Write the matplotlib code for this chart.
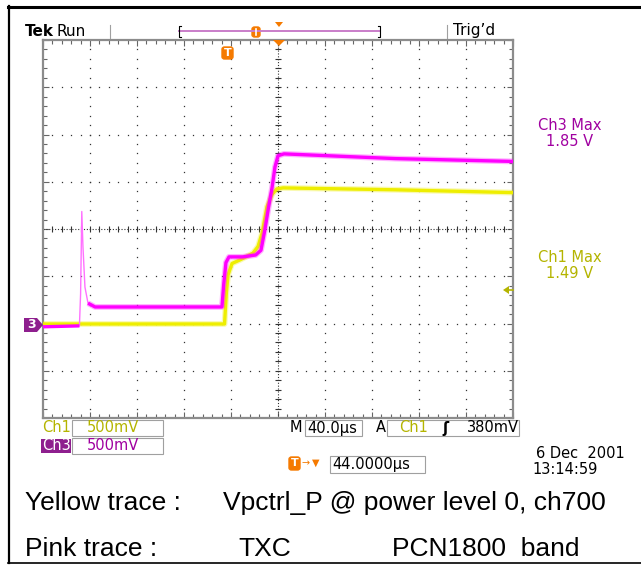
import numpy as np
import matplotlib.pyplot as plt
from matplotlib.patches import Polygon, FancyBboxPatch, Rectangle
from matplotlib.lines import Line2D
from matplotlib.ticker import MultipleLocator, FixedLocator, NullFormatter

W, H = 641, 566

# ---------------- scope settings ----------------
time_per_div = 40.0      # us / div
volts_per_div = 0.5      # V / div (Ch1 and Ch3)
gnd_pos_div = -2.07      # ground marker position relative to screen centre

# ---------------- traces ----------------
# Ch1 (yellow): Vpctrl_P
ch1_t = [0, 154.5, 156.0, 157.5, 160.9, 168.0, 178.7, 183.0, 186.4, 190.6, 194.9, 199.1, 204.3, 300, 400]
ch1_v = [0.03, 0.03, 0.35, 0.55, 0.67, 0.71, 0.78, 0.85, 0.99, 1.27, 1.40, 1.46, 1.47, 1.45, 1.42]

# Ch3 (pink): TXC
ch3_t = [0, 31.0, 32.0, 33.0, 34.0, 35.7, 38.3, 44.3, 152.3, 153.8, 155.7, 158.3, 170.0,
         181.0, 185.5, 188.9, 192.3, 194.9, 197.4, 200.0, 205.1, 300, 400]
ch3_v = [0.00, 0.01, 0.35, 1.22, 0.85, 0.42, 0.25, 0.21, 0.21, 0.45, 0.68, 0.74, 0.74,
         0.76, 0.81, 1.03, 1.29, 1.47, 1.69, 1.81, 1.83, 1.78, 1.75]

ch3_max = "1.85 V"
ch1_max = "1.49 V"

yellow = '#EEEE00'
pink = '#FF00FF'
olive = '#B4B400'
purple = '#A000A0'
orange = '#F57A00'


def fx(x):
    return x / W


def fy(y):
    return 1 - y / H


fig = plt.figure(figsize=(W / 100, H / 100), dpi=100)
fig.patch.set_facecolor('white')

# ---------------- graticule ----------------
ax = fig.add_axes([fx(43), fy(418), 470 / W, 378 / H])
x_lo, x_hi = 0, 10 * time_per_div
y_lo = (-4 - gnd_pos_div) * volts_per_div
y_hi = (4 - gnd_pos_div) * volts_per_div
ax.set_xlim(x_lo, x_hi)
ax.set_ylim(y_lo, y_hi)

for s in ax.spines.values():
    s.set_color('#8c8c8c')
    s.set_linewidth(1.6)

ax.xaxis.set_major_locator(MultipleLocator(time_per_div))
ax.xaxis.set_minor_locator(MultipleLocator(time_per_div / 5))
ax.yaxis.set_major_locator(FixedLocator(y_lo + np.arange(9) * volts_per_div))
ax.yaxis.set_minor_locator(FixedLocator(y_lo + np.arange(41) * volts_per_div / 5))
ax.xaxis.set_major_formatter(NullFormatter())
ax.yaxis.set_major_formatter(NullFormatter())
ax.tick_params(which='both', direction='in', top=True, right=True, color='#666666', width=0.8)
ax.tick_params(which='major', length=4)
ax.tick_params(which='minor', length=3)

# dotted division lines
fine = np.arange(1, 40) / 40
for k in range(1, 10):
    if k == 5:
        continue
    ax.plot(np.full_like(fine, k / 10), fine, 's', ms=0.9, color='#333333',
            mew=0, transform=ax.transAxes)
fine = np.arange(1, 50) / 50
for k in range(1, 8):
    if k == 4:
        continue
    ax.plot(fine, np.full_like(fine, k / 8), 's', ms=0.9, color='#333333',
            mew=0, transform=ax.transAxes)

# centre lines with sub-division ticks
ax.plot([0, 1], [0.5, 0.5], color='#333333', lw=0.8, ls=(0, (1, 1.6)), transform=ax.transAxes)
ax.plot([0.5, 0.5], [0, 1], color='#333333', lw=0.8, ls=(0, (1, 1.6)), transform=ax.transAxes)
tx = np.arange(1, 50) / 50
ax.plot(tx, np.full_like(tx, 0.5), '|', ms=4, mew=0.8, color='#333333', transform=ax.transAxes)
ty = np.arange(1, 40) / 40
ax.plot(np.full_like(ty, 0.5), ty, '_', ms=4, mew=0.8, color='#333333', transform=ax.transAxes)

# ---------------- traces ----------------
ax.plot(ch1_t, ch1_v, color=yellow, lw=4.2, alpha=0.3, solid_capstyle='butt', zorder=3)
ax.plot(ch1_t, ch1_v, color=yellow, lw=2.4, solid_capstyle='butt', zorder=4)

ax.plot(ch3_t, ch3_v, color='#FF70FF', lw=1.0, zorder=5)
ax.plot(ch3_t[:2], ch3_v[:2], color=pink, lw=2.4, solid_capstyle='butt', zorder=5)
ax.plot(ch3_t[6:], ch3_v[6:], color=pink, lw=4.2, alpha=0.3, solid_capstyle='butt', zorder=5)
ax.plot(ch3_t[6:], ch3_v[6:], color=pink, lw=2.4, solid_capstyle='butt', zorder=6)

# ---------------- outer frame ----------------
fig.add_artist(Line2D([fx(8), 1], [fy(6.5), fy(6.5)], color='black', lw=2.2))
fig.add_artist(Line2D([fx(9), fx(9)], [fy(6), fy(563)], color='black', lw=1.6))
fig.add_artist(Line2D([fx(8), 1], [fy(563), fy(563)], color='black', lw=1.2))

scope_font = 'DejaVu Sans'


def label(x, y, s, color='black', size=10.5, ha='left', weight='normal', family=scope_font):
    fig.text(fx(x), fy(y), s, color=color, fontsize=size, ha=ha, va='center',
             fontweight=weight, family=family)


def box(x0, y0, x1, y1, face='white', edge='#a0a0a0'):
    fig.add_artist(Rectangle((fx(x0), fy(y1)), fx(x1) - fx(x0), (y1 - y0) / H,
                             facecolor=face, edgecolor=edge, lw=0.8,
                             transform=fig.transFigure))


def t_marker(x0, y0, w, h, letter=True):
    fig.add_artist(FancyBboxPatch((fx(x0), fy(y0 + h)), w / W, h / H,
                                  boxstyle='round,pad=0,rounding_size=0.004',
                                  facecolor=orange, edgecolor=orange,
                                  transform=fig.transFigure))
    if letter:
        fig.text(fx(x0 + w / 2), fy(y0 + h / 2), 'T', color='white', fontsize=8,
                 fontweight='bold', ha='center', va='center', family=scope_font)
    else:
        fig.add_artist(Line2D([fx(x0 + w / 2)] * 2, [fy(y0 + 2), fy(y0 + h - 2)],
                              color='white', lw=1.2))


def down_tri(xc, ytop, w, h):
    fig.add_artist(Polygon([(fx(xc - w / 2), fy(ytop)), (fx(xc + w / 2), fy(ytop)),
                            (fx(xc), fy(ytop + h))], closed=True, facecolor=orange,
                           edgecolor='none', transform=fig.transFigure))


# ---------------- header ----------------
label(25, 31, 'Tek', size=11, weight='bold')
label(57, 31, 'Run', size=11)
fig.add_artist(Line2D([fx(110)] * 2, [fy(25), fy(38)], color='#a0a0a0', lw=0.8))
fig.add_artist(Line2D([fx(447)] * 2, [fy(25), fy(38)], color='#a0a0a0', lw=0.8))
label(453, 31, 'Trig’d', size=11)

fig.add_artist(Line2D([fx(179), fx(380)], [fy(31), fy(31)], color='#C97DC9', lw=1.4))
fig.add_artist(Line2D([fx(181), fx(179), fx(179), fx(181)],
                      [fy(26), fy(26), fy(37), fy(37)], color='black', lw=0.8))
fig.add_artist(Line2D([fx(378), fx(380), fx(380), fx(378)],
                      [fy(26), fy(26), fy(37), fy(37)], color='black', lw=0.8))
t_marker(252, 27, 8, 10, letter=False)
down_tri(279, 22, 8, 5)
down_tri(279, 40, 12, 6)
t_marker(222, 47, 11, 12)

# ground marker for Ch3
fig.add_artist(Polygon([(fx(24), fy(318)), (fx(37), fy(318)), (fx(43), fy(325)),
                        (fx(37), fy(332)), (fx(24), fy(332))], closed=True,
                       facecolor='#8E1F8E', edgecolor='none', transform=fig.transFigure))
label(31, 325, '3', color='white', size=9, ha='center', weight='bold')

# trigger level arrow (Ch1)
fig.add_artist(Polygon([(fx(503), fy(290)), (fx(509), fy(286)), (fx(509), fy(294))],
                       closed=True, facecolor=olive, edgecolor='none',
                       transform=fig.transFigure))
fig.add_artist(Line2D([fx(509), fx(513)], [fy(290), fy(290)], color=olive, lw=1.2))

# ---------------- right side readouts ----------------
label(570, 126, 'Ch3 Max', color=purple, size=10.5, ha='center')
label(570, 142, ch3_max, color=purple, size=10.5, ha='center')
label(570, 258, 'Ch1 Max', color=olive, size=10.5, ha='center')
label(570, 274, ch1_max, color=olive, size=10.5, ha='center')

# ---------------- bottom readouts ----------------
label(42, 428, 'Ch1', color=olive)
box(72, 420, 163, 436)
label(87, 428, '500mV', color=olive)

fig.add_artist(Rectangle((fx(41), fy(453)), 30 / W, 14 / H, facecolor='#8E1F8E',
                         edgecolor='none', transform=fig.transFigure))
label(42, 446, 'Ch3', color='white')
box(72, 438, 163, 454)
label(87, 446, '500mV', color=purple)

label(296, 428, 'M', ha='center')
box(305, 420, 362, 436)
label(307, 428, '40.0µs')
label(381, 428, 'A', ha='center')
box(387, 420, 519, 436)
label(399, 428, 'Ch1', color=olive)
label(446, 428, 'ʃ', ha='center', weight='bold')
label(467, 428, '380mV')

t_marker(289, 457, 11, 13)
label(306, 463, '→', color=orange, size=7, ha='center')
label(316, 463, '▼', color=orange, size=7, ha='center')
box(330, 456, 425, 473)
label(332, 464, '44.0000µs')

label(625, 453, '6 Dec  2001', ha='right')
label(532, 469, '13:14:59')

# ---------------- caption ----------------
cap = 'Liberation Sans'
label(25, 503, 'Yellow trace :', size=19, family=cap)
label(223, 503, 'Vpctrl_P @ power level 0, ch700', size=19, family=cap)
label(25, 549, 'Pink trace :', size=19, family=cap)
label(238, 549, 'TXC', size=19, family=cap)
label(392, 549, 'PCN1800  band', size=19, family=cap)

fig.savefig('out.png', dpi=100)
